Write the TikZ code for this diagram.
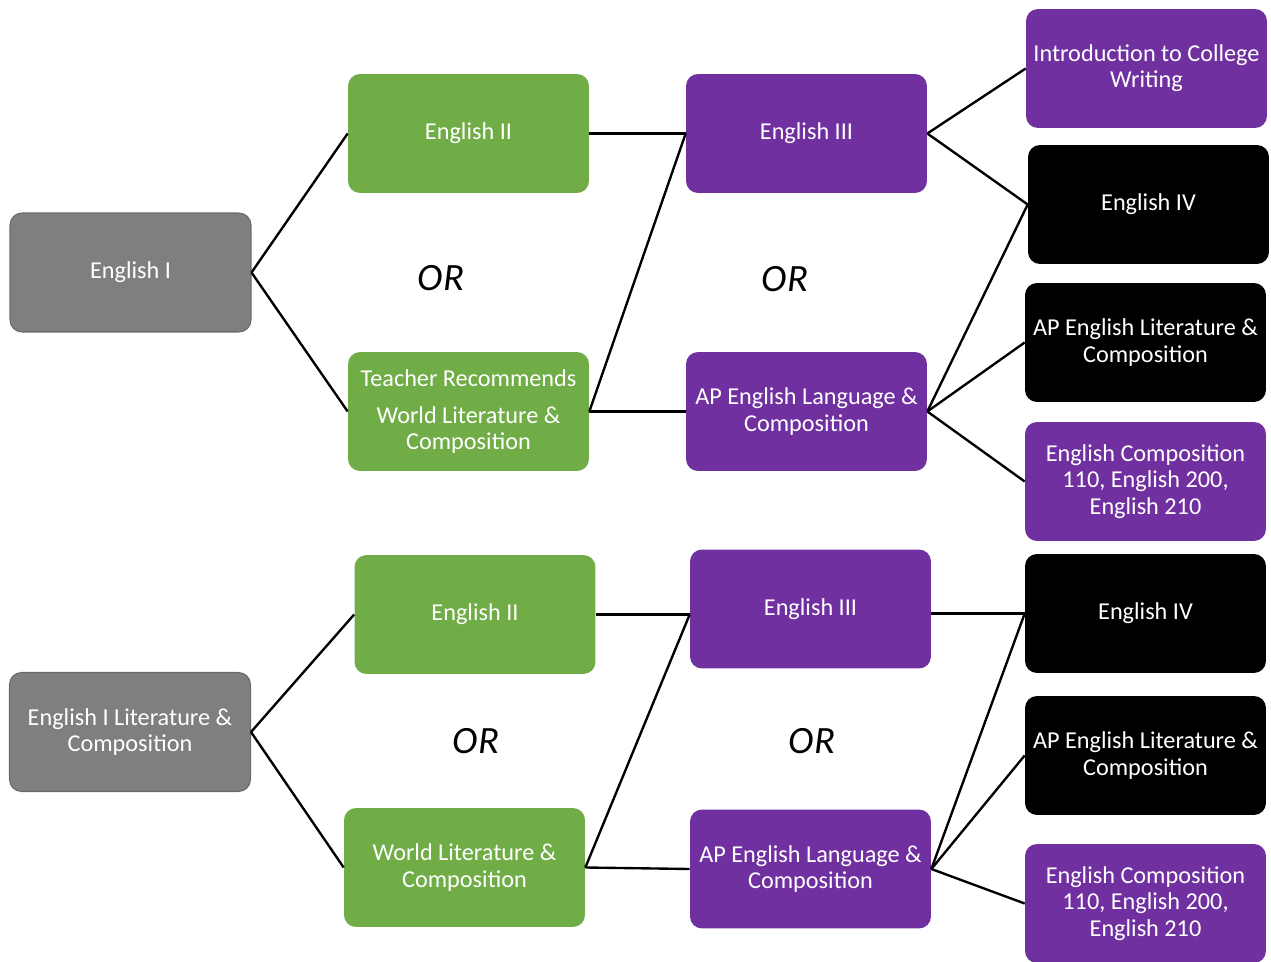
\documentclass[tikz,border=0pt]{standalone}
\usepackage{fontspec}
\setmainfont{Carlito}
\definecolor{boxgrey}{HTML}{7F7F7F}
\definecolor{boxgreen}{HTML}{70AD47}
\definecolor{boxpurple}{HTML}{7030A0}
\tikzset{
  course/.style={rounded corners=0.24cm, minimum width=4.82cm, minimum height=2.38cm,
    inner sep=2pt, align=center, text=white, font=\fontsize{13.8}{14.9}\selectfont},
  greycourse/.style={course, fill=boxgrey, draw=black!58, line width=0.6pt},
  greencourse/.style={course, fill=boxgreen},
  purplecourse/.style={course, fill=boxpurple},
  blackcourse/.style={course, fill=black},
  orlabel/.style={font=\fontsize{22}{24}\selectfont\itshape},
  link/.style={line width=1.35pt}
}
\begin{document}
\begin{tikzpicture}[x=0.02cm,y=-0.02cm]
\useasboundingbox (0,0) rectangle (1271,962);
% first path
\node[greycourse] (engI) at (130.5,272.5) {English I};
\node[greencourse] (engIIa) at (468.5,133.5) {English II};
\node[greencourse] (worldA) at (468.5,411.5) {Teacher Recommends\\[6pt]World Literature \&\\Composition};
\node[purplecourse] (engIIIa) at (806.5,133.5) {English III};
\node[purplecourse] (apLangA) at (806.5,411.5) {AP English Language \&\\Composition};
\node[purplecourse] (introCW) at (1146.5,68.5) {Introduction to College\\Writing};
\node[blackcourse] (engIVa) at (1148.5,204.5) {English IV};
\node[blackcourse] (apLitA) at (1145.5,342.5) {AP English Literature \&\\Composition};
\node[purplecourse] (compA) at (1145.5,481.5) {English Composition\\110, English 200,\\English 210};
\node[orlabel] (orA) at (441,278) {OR};
\node[orlabel] (orB) at (785,279) {OR};
\draw[link] (engI.east) -- (engIIa.west);
\draw[link] (engI.east) -- (worldA.west);
\draw[link] (engIIa.east) -- (engIIIa.west);
\draw[link] (worldA.east) -- (engIIIa.west);
\draw[link] (worldA.east) -- (apLangA.west);
\draw[link] (engIIIa.east) -- (introCW.west);
\draw[link] (engIIIa.east) -- (engIVa.west);
\draw[link] (apLangA.east) -- (engIVa.west);
\draw[link] (apLangA.east) -- (apLitA.west);
\draw[link] (apLangA.east) -- (compA.west);
% second path
\node[greycourse] (engILit) at (130,732) {English I Literature \&\\Composition};
\node[greencourse] (engIIb) at (475,614.5) {English II};
\node[greencourse] (worldB) at (464.5,867.5) {World Literature \&\\Composition};
\node[purplecourse] (engIIIb) at (810.5,609) {English III};
\node[purplecourse] (apLangB) at (810.5,869) {AP English Language \&\\Composition};
\node[blackcourse] (engIVb) at (1145.5,613.5) {English IV};
\node[blackcourse] (apLitB) at (1145.5,755.5) {AP English Literature \&\\Composition};
\node[purplecourse] (compB) at (1145.5,903.5) {English Composition\\110, English 200,\\English 210};
\node[orlabel] (orC) at (476,741) {OR};
\node[orlabel] (orD) at (812,741) {OR};
\coordinate (engIIIbIn) at (engIIIb.west |- engIIb.east);
\coordinate (engIIIbOut) at (engIIIb.east |- engIVb.west);
\draw[link] (engILit.east) -- (engIIb.west);
\draw[link] (engILit.east) -- (worldB.west);
\draw[link] (engIIb.east) -- (engIIIbIn);
\draw[link] (worldB.east) -- (engIIIbIn);
\draw[link] (worldB.east) -- (apLangB.west);
\draw[link] (engIIIbOut) -- (engIVb.west);
\draw[link] (apLangB.east) -- (engIVb.west);
\draw[link] (apLangB.east) -- (apLitB.west);
\draw[link] (apLangB.east) -- (compB.west);
\end{tikzpicture}
\end{document}
